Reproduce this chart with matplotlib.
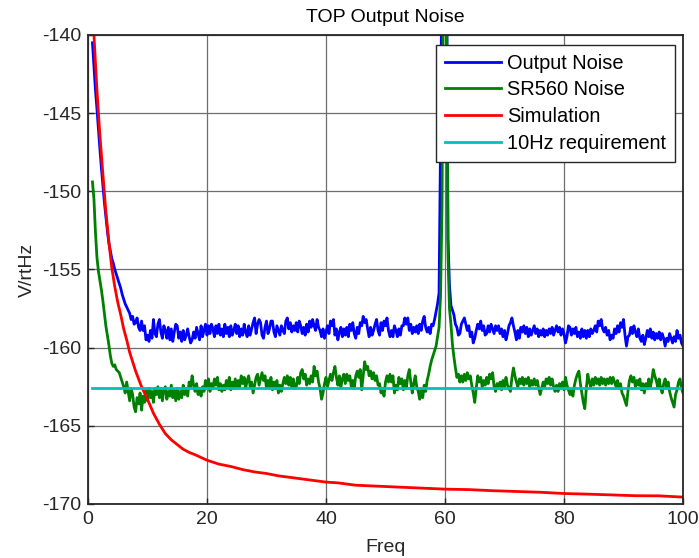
import numpy as np
import matplotlib
matplotlib.use("Agg")
import matplotlib.pyplot as plt

plt.rcParams["font.family"] = ["Liberation Sans", "DejaVu Sans"]
plt.rcParams["axes.unicode_minus"] = False

# measured spectra share 0.25 Hz bins, 0.75 .. 100 Hz
freq_meas = np.arange(0.75, 100.001, 0.25)

output_noise = [
    -140.5,
    -142.0, -143.5, -144.7, -146.0, -147.3, -148.5, -149.6, -150.7,   # 1.0
    -151.6, -152.5, -153.3, -153.8, -154.3, -154.6, -155.0, -155.3,   # 3.0
    -155.6, -155.9, -156.2, -156.6, -156.9, -157.2, -157.4, -157.6,   # 5.0
    -157.8, -158.2, -158.0, -158.5, -158.4, -158.1, -158.7, -158.9,   # 7.0
    -158.3, -158.9, -158.6, -159.5, -159.2, -159.6, -158.9, -159.4,   # 9.0
    -158.2, -159.1, -159.3, -158.5, -158.2, -159.0, -159.4, -158.6,   # 11
    -158.9, -159.4, -158.7, -159.5, -158.8, -159.6, -159.0, -158.5,   # 13
    -158.6, -159.4, -159.0, -159.6, -158.9, -159.5, -159.2, -158.8,   # 15
    -159.3, -159.7, -159.5, -159.0, -159.4, -158.7, -159.1, -159.5,   # 17
    -158.6, -159.3, -158.9, -158.5, -159.2, -158.6, -159.1, -158.5,   # 19
    -158.8, -159.3, -158.6, -159.1, -158.5, -159.2, -158.8, -159.3,   # 21
    -158.5, -159.1, -158.7, -159.3, -158.6, -159.2, -158.9, -158.5,   # 23
    -159.1, -158.6, -159.3, -158.8, -159.2, -158.5, -159.0, -159.3,   # 25
    -158.6, -159.2, -158.8, -158.4, -158.1, -159.1, -158.5, -158.2,   # 27
    -158.4, -159.2, -159.4, -158.7, -158.3, -159.1, -158.8, -158.3,   # 29
    -158.3, -159.0, -159.3, -158.6, -158.9, -159.2, -158.6, -158.9,   # 31
    -159.1, -158.3, -158.1, -158.8, -158.4, -159.0, -158.6, -158.9,   # 33
    -158.4, -159.0, -158.3, -158.6, -159.1, -158.7, -159.2, -158.5,   # 35
    -159.0, -158.3, -158.7, -158.2, -158.6, -158.9, -158.2, -158.7,   # 37
    -158.9, -159.3, -158.8, -159.4, -159.0, -158.6, -159.1, -158.3,   # 39
    -158.6, -158.2, -159.2, -158.8, -159.5, -159.0, -158.7, -159.3,   # 41
    -158.8, -159.2, -158.7, -159.3, -158.5, -158.9, -158.4, -159.1,   # 43
    -159.4, -158.7, -159.1, -158.4, -158.6, -158.0, -158.4, -158.2,   # 45
    -158.8, -159.3, -158.7, -159.2, -158.9, -158.5, -158.2, -158.9,   # 47
    -159.2, -158.4, -158.9, -158.3, -158.6, -158.1, -158.9, -159.3,   # 49
    -158.9, -159.3, -158.6, -158.9, -159.3, -158.8, -159.2, -158.6,   # 51
    -158.6, -158.1, -158.5, -158.1, -158.9, -158.5, -159.1, -158.7,   # 53
    -159.0, -158.6, -159.1, -158.5, -158.9, -158.3, -158.0, -158.7,   # 55
    -159.0, -158.7, -159.1, -158.5, -158.6, -158.2, -157.7, -157.2,   # 57
    -156.5, -147.0, -134.0, -132.0, -132.0, -134.0, -153.0, -156.0,   # 59
    -157.3, -157.6, -157.9, -158.5, -158.7, -159.2, -159.1, -158.5,   # 61
    -158.3, -158.1, -158.5, -158.9, -158.6, -159.3, -159.0, -159.7,   # 63
    -159.4, -158.9, -158.5, -158.8, -158.3, -158.9, -158.6, -159.2,   # 65
    -159.1, -158.6, -159.0, -158.5, -158.8, -159.1, -158.6, -158.9,   # 67
    -158.6, -159.1, -158.8, -159.3, -158.9, -159.5, -159.1, -158.6,   # 69
    -158.4, -158.1, -158.6, -159.0, -159.5, -158.9, -159.4, -158.7,   # 71
    -159.0, -158.6, -159.1, -158.7, -159.3, -158.8, -159.2, -158.9,   # 73
    -158.6, -159.1, -158.8, -159.3, -158.9, -159.2, -158.8, -159.3,   # 75
    -158.9, -159.2, -158.8, -159.1, -158.7, -159.2, -158.9, -158.6,   # 77
    -159.0, -158.7, -159.2, -158.8, -159.1, -159.7, -159.3, -158.6,   # 79
    -158.7, -159.2, -158.8, -159.1, -158.7, -159.3, -159.0, -159.4,   # 81
    -158.8, -159.3, -158.9, -159.4, -158.9, -159.3, -158.8, -159.1,   # 83
    -158.9, -158.6, -159.0, -158.3, -158.6, -158.2, -158.8, -159.0,   # 85
    -158.7, -159.2, -158.9, -159.5, -159.2, -159.4, -158.8, -159.1,   # 87
    -158.6, -159.0, -158.4, -158.7, -158.2, -159.2, -159.9, -159.3,   # 89
    -159.2, -158.7, -159.1, -158.6, -159.0, -159.3, -158.8, -159.4,   # 91
    -159.6, -159.2, -159.8, -159.4, -158.9, -159.3, -158.8, -159.4,   # 93
    -159.0, -159.5, -159.1, -159.4, -159.0, -159.5, -159.1, -159.4,   # 95
    -159.9, -159.4, -159.6, -159.1, -159.4, -159.7, -159.3, -159.6,   # 97
    -158.9, -159.4, -159.2, -159.7, -159.9,                           # 99
]

sr560_noise = [
    -149.4,
    -150.5, -152.6, -154.2, -155.1, -155.7, -156.3, -157.0, -157.8,   # 1.0
    -158.6, -159.2, -159.8, -160.5, -161.0, -161.2, -161.1, -161.4,   # 3.0
    -161.5, -161.6, -161.9, -162.2, -162.5, -162.9, -162.2, -162.8,   # 5.0
    -163.4, -162.6, -163.0, -163.8, -164.1, -163.2, -163.6, -162.9,   # 7.0
    -164.0, -163.1, -163.5, -162.7, -163.4, -162.6, -163.2, -162.8,   # 9.0
    -163.5, -162.6, -163.0, -162.5, -163.2, -162.6, -163.4, -162.7,   # 11
    -162.5, -163.3, -162.8, -163.1, -162.4, -163.2, -162.7, -163.4,   # 13
    -162.6, -163.3, -162.8, -163.2, -162.4, -163.0, -162.6, -163.1,   # 15
    -162.2, -162.5, -161.8, -162.4, -162.8, -162.3, -163.0, -162.6,   # 17
    -163.1, -162.5, -162.8, -162.1, -162.5, -162.0, -162.8, -162.3,   # 19
    -162.6, -162.0, -162.4, -161.9, -162.7, -162.3, -162.8, -162.4,   # 21
    -162.7, -162.1, -162.5, -161.9, -162.7, -162.2, -162.6, -162.0,   # 23
    -162.6, -162.1, -162.5, -161.8, -162.3, -161.9, -162.6, -162.1,   # 25
    -161.8, -162.5, -162.2, -162.9, -162.4, -161.9, -161.7, -162.4,   # 27
    -162.0, -161.6, -162.1, -161.8, -162.6, -162.1, -162.5, -161.9,   # 29
    -162.7, -162.2, -162.6, -162.1, -162.9, -162.4, -162.8, -162.3,   # 31
    -161.9, -162.3, -161.8, -162.4, -161.9, -162.5, -162.0, -162.6,   # 33
    -162.5, -161.9, -162.3, -161.6, -161.4, -162.0, -161.7, -162.4,   # 35
    -162.0, -162.3, -161.8, -162.2, -161.2, -161.8, -161.5, -162.2,   # 37
    -162.6, -163.3, -162.9, -162.3, -161.9, -162.5, -162.1, -161.7,   # 39
    -162.1, -161.6, -161.2, -161.9, -162.4, -161.8, -162.5, -162.0,   # 41
    -161.7, -162.3, -161.7, -162.1, -161.8, -162.5, -162.1, -162.6,   # 43
    -161.8, -161.5, -161.9, -161.4, -162.7, -161.8, -160.9, -161.4,   # 45
    -161.2, -161.8, -161.5, -162.0, -161.6, -162.1, -161.8, -162.4,   # 47
    -162.3, -162.9, -162.6, -163.1, -162.2, -161.8, -162.2, -161.7,   # 49
    -162.2, -161.8, -162.9, -162.4, -162.7, -161.9, -162.3, -162.0,   # 51
    -162.7, -162.1, -162.6, -161.8, -161.4, -162.2, -162.9, -162.3,   # 53
    -161.8, -162.5, -162.8, -163.3, -162.6, -163.2, -162.4, -162.8,   # 55
    -162.1, -161.7, -161.2, -160.8, -160.5, -160.2, -159.9, -159.3,   # 57
    -158.7, -156.7, -151.0, -135.0, -131.0, -136.0, -154.0, -157.5,   # 59
    -158.5, -159.8, -160.6, -161.3, -161.9, -161.7, -162.2, -161.8,   # 61
    -162.2, -161.7, -162.1, -161.6, -162.0, -161.8, -162.4, -162.9,   # 63
    -163.5, -162.6, -161.8, -162.2, -161.9, -162.5, -162.1, -162.4,   # 65
    -161.9, -162.3, -161.7, -162.0, -161.6, -162.5, -162.8, -162.3,   # 67
    -162.6, -162.2, -162.7, -162.1, -162.5, -161.9, -162.4, -162.6,   # 69
    -162.8, -161.9, -161.3, -161.8, -162.2, -162.5, -162.0, -162.3,   # 71
    -161.9, -162.4, -162.0, -162.3, -161.9, -162.5, -162.1, -162.4,   # 73
    -162.0, -162.4, -162.1, -162.6, -163.0, -162.6, -162.2, -162.5,   # 75
    -162.0, -162.3, -161.9, -162.4, -162.0, -162.5, -162.8, -162.4,   # 77
    -162.8, -162.3, -162.6, -162.2, -162.7, -161.9, -162.4, -162.7,   # 79
    -163.0, -162.7, -163.1, -162.4, -162.0, -161.7, -161.5, -162.3,   # 81
    -162.9, -163.5, -163.9, -162.6, -161.7, -162.2, -162.5, -162.0,   # 83
    -162.4, -161.9, -162.3, -162.0, -162.4, -161.9, -162.3, -162.0,   # 85
    -162.4, -162.0, -162.3, -161.9, -162.3, -161.9, -162.2, -162.5,   # 87
    -162.1, -162.6, -162.3, -162.9, -163.1, -163.4, -163.7, -162.8,   # 89
    -162.1, -161.8, -162.2, -161.9, -162.5, -162.1, -162.4, -162.0,   # 91
    -162.7, -162.3, -162.9, -162.3, -162.6, -162.0, -162.5, -162.1,   # 93
    -161.4, -161.8, -162.1, -162.5, -162.0, -162.6, -162.9, -162.3,   # 95
    -162.0, -162.6, -162.2, -162.8, -163.2, -163.5, -163.8, -163.0,   # 97
    -162.7, -162.2, -162.0, -162.6, -162.9,                           # 99
]

freq_sim = [1.0, 1.25, 1.5, 1.75, 2.0, 2.5, 3.0, 3.5, 4.0, 4.5, 5.0, 5.5, 6.0, 6.5,
            7.0, 7.5, 8.0, 9.0, 10.0, 11.0, 12.0, 13.0, 14.0, 15.0, 16.0, 17.0, 18.0,
            20.0, 22.0, 24.0, 26.0, 28.0, 30.0, 32.0, 34.0, 36.0, 38.0, 40.0, 42.0,
            45.0, 48.0, 51.0, 54.0, 57.0, 60.0, 64.0, 68.0, 72.0, 76.0, 80.0, 84.0,
            88.0, 92.0, 96.0, 100.0]
simulation = [-140.0, -141.8, -143.5, -145.0, -146.4, -148.9, -151.3, -153.2, -154.9,
              -156.1, -157.1, -157.9, -158.8, -159.5, -160.3, -160.9, -161.5, -162.5,
              -163.3, -164.2, -164.9, -165.5, -165.9, -166.2, -166.5, -166.7, -166.85,
              -167.2, -167.45, -167.6, -167.8, -167.95, -168.05, -168.2, -168.3, -168.4,
              -168.5, -168.6, -168.65, -168.8, -168.85, -168.9, -168.95, -169.0, -169.05,
              -169.08, -169.15, -169.2, -169.25, -169.33, -169.37, -169.42, -169.47,
              -169.48, -169.56]

freq_req = [0.75, 100.0]
requirement = [-162.6, -162.6]

fig = plt.figure(figsize=(6.99, 5.58), dpi=100)
ax = fig.add_axes([0.1259, 0.0968, 0.8512, 0.8405])

ax.plot(freq_meas, output_noise, color="#0000ff", lw=2, label="Output Noise")
ax.plot(freq_meas, sr560_noise, color="#008000", lw=2, label="SR560 Noise")
ax.plot(freq_sim, simulation, color="#ff0000", lw=2, label="Simulation")
ax.plot(freq_req, requirement, color="#00bfbf", lw=2, label="10Hz requirement")

ax.set_xlim(0, 100)
ax.set_ylim(-170, -140)
ax.set_xticks([0, 20, 40, 60, 80, 100])
ax.set_yticks([-170, -165, -160, -155, -150, -145, -140])
ax.grid(True, color="#6e6e6e", lw=0.9)
ax.set_axisbelow(True)
ax.tick_params(direction="in", length=4, width=1, labelsize=14,
               colors="#262626", pad=5)
for s in ax.spines.values():
    s.set_color("#262626")
    s.set_linewidth(1.3)

ax.set_title("TOP Output Noise", fontsize=14, color="#000000", pad=9.5)
ax.set_xlabel("Freq", fontsize=14, color="#262626", labelpad=8)
ax.set_ylabel("V/rtHz", fontsize=14, color="#262626", labelpad=4)

leg = ax.legend(loc="upper right", bbox_to_anchor=(0.987, 0.979), fontsize=14.4,
                frameon=True, fancybox=False, framealpha=1, edgecolor="#262626",
                handlelength=2.8, handletextpad=0.3, borderpad=0.45,
                labelspacing=0.38, borderaxespad=0)
leg.get_frame().set_linewidth(1.0)

fig.savefig("out.png", dpi=100)
